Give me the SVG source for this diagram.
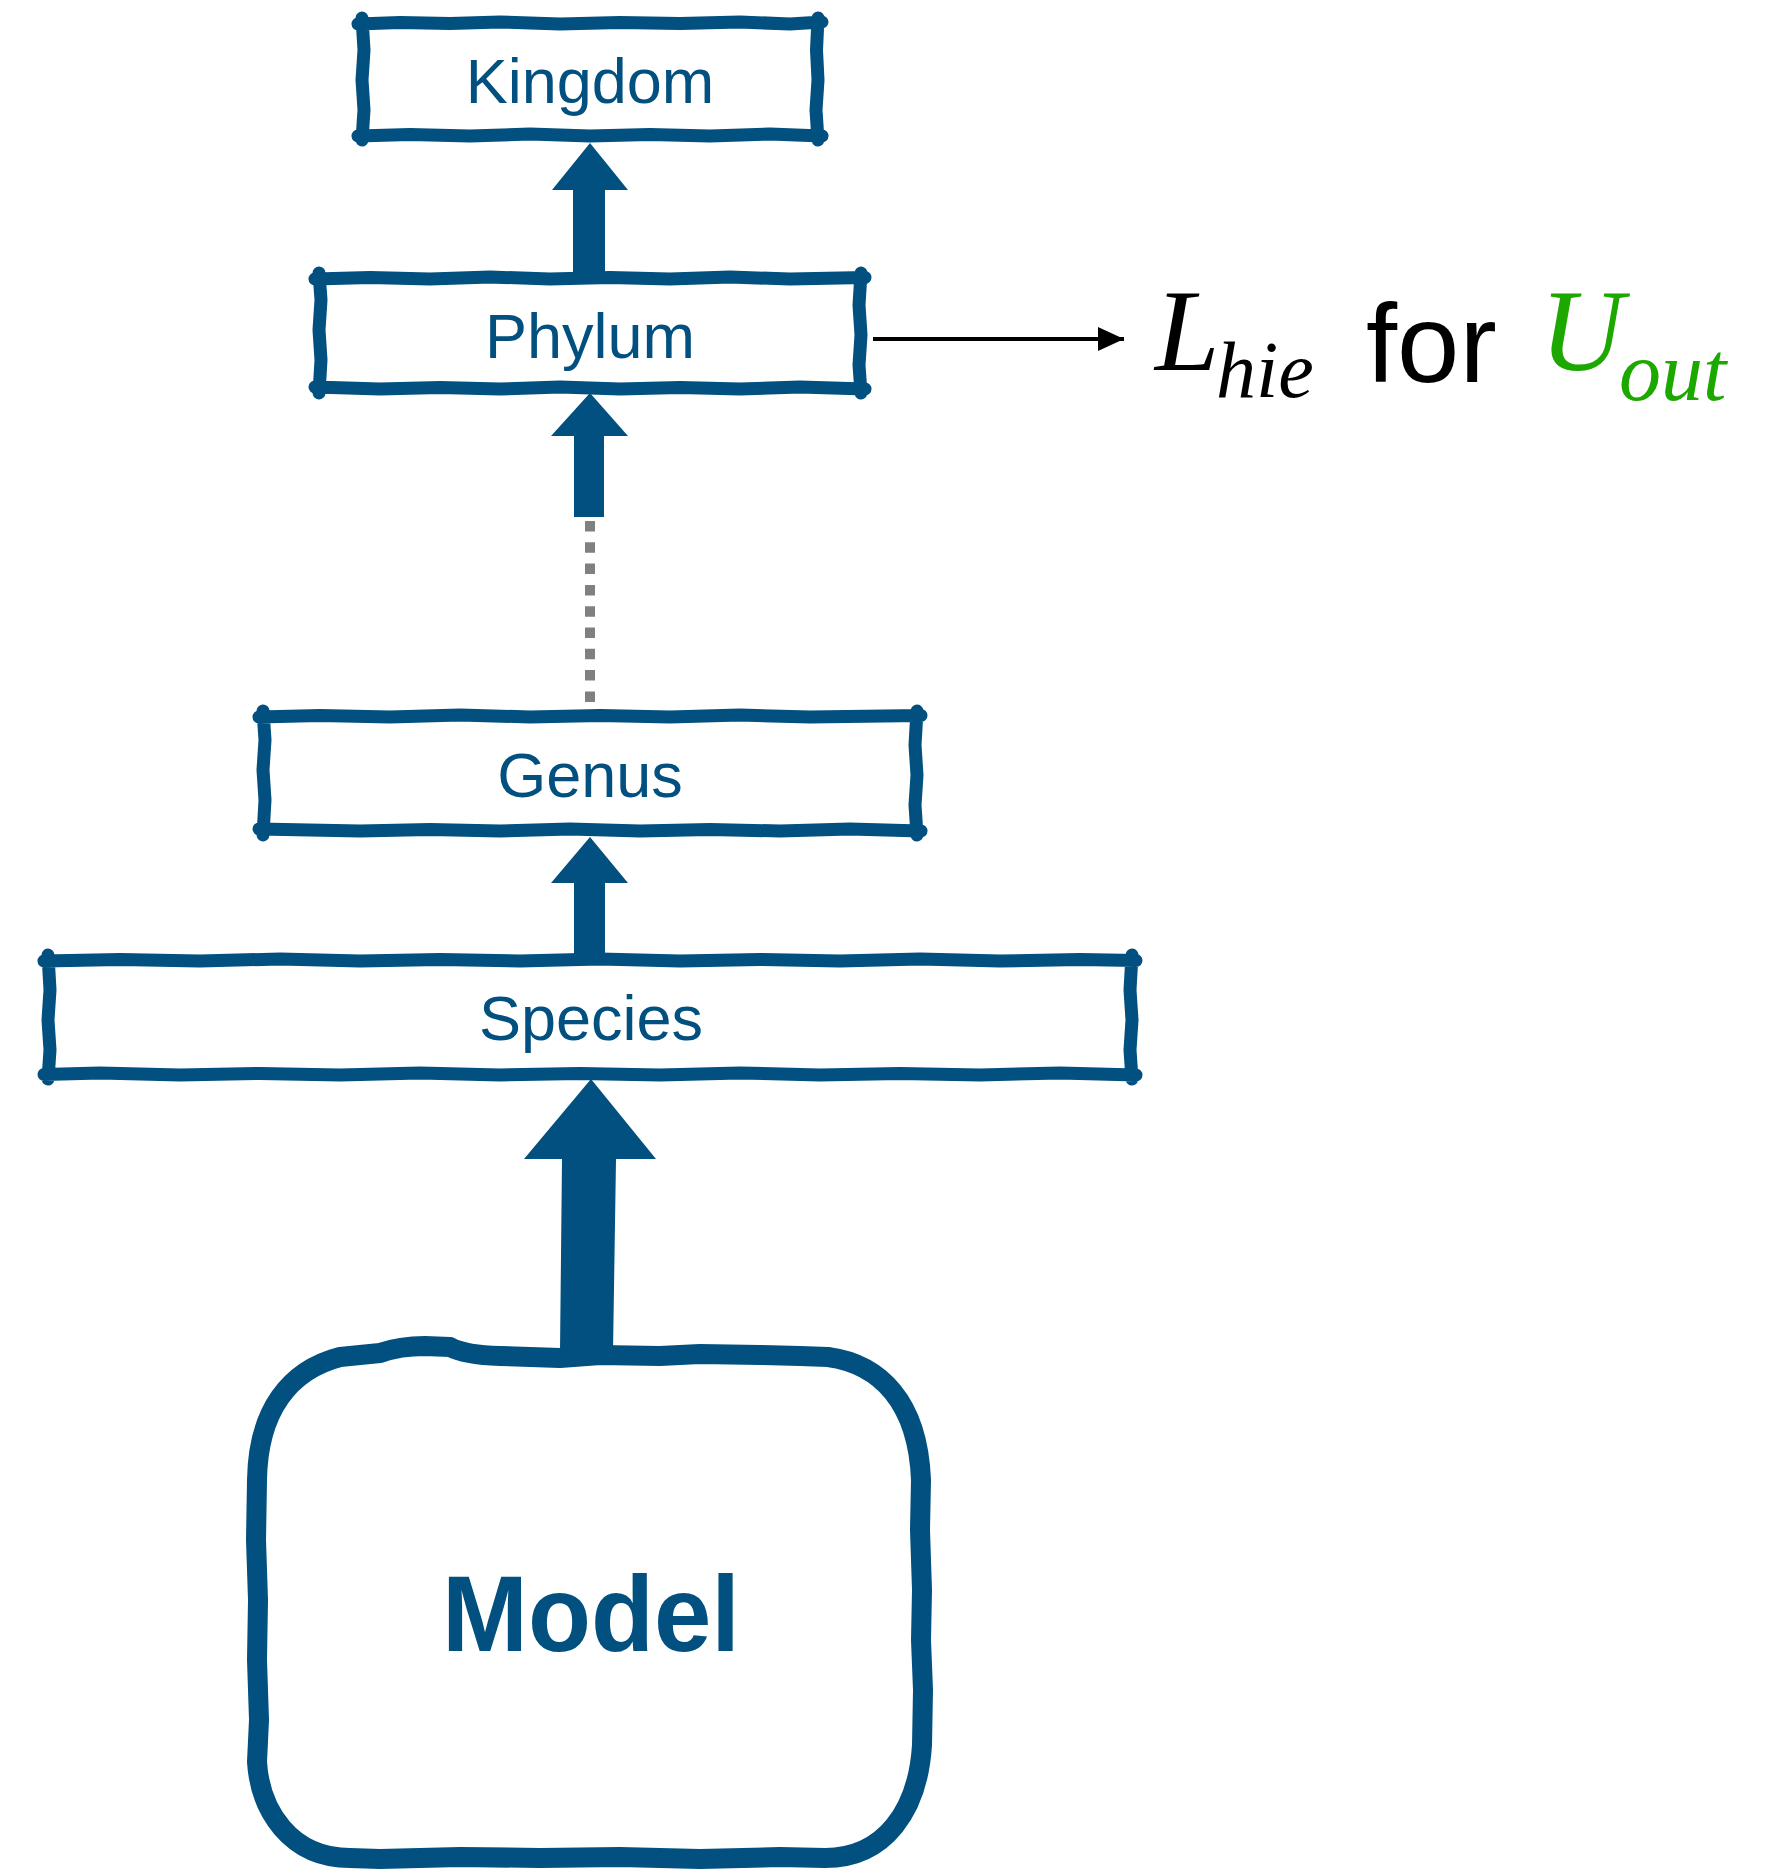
<svg xmlns="http://www.w3.org/2000/svg" width="1772" height="1871" viewBox="0 0 1772 1871">
<style>
.box{fill:none;stroke:#02507F;stroke-width:13;stroke-linecap:round;stroke-linejoin:round}
.bg{fill:#fff;stroke:none}
.lbl{font-family:"Liberation Sans",Arial,sans-serif;font-size:63px;fill:#02507F;text-anchor:middle}
.big{fill:#02507F;stroke:none}
.math{font-family:"Liberation Serif","Times New Roman",serif;font-style:italic}
</style>
<defs>
<marker id="ah" markerUnits="userSpaceOnUse" markerWidth="28" markerHeight="26" refX="26" refY="13" orient="auto">
<path d="M0 1 L26 13 L0 25 Z" fill="#000"/>
</marker>
</defs>
<rect width="1772" height="1871" fill="#fff"/>

<g id="connectors">
<polygon class="big" points="590,143 628,190 605,190 605,272 573,272 573,190 552,190"/>
<polygon class="big" points="590,393 628,436 604,436 604,517 574,517 574,436 551,436"/>
<line x1="590" y1="521" x2="590" y2="705" stroke="#808080" stroke-width="10" stroke-dasharray="10.5 10.8"/>
<polygon class="big" points="590,837 628,883 605,883 605,959 574,959 574,883 551,883"/>
<polygon class="big" points="591,1079 656,1159 616,1159 613,1352 560,1352 562,1159 524,1159"/>
<line x1="873" y1="339" x2="1124" y2="339" stroke="#000" stroke-width="4" marker-end="url(#ah)"/>
</g>

<g id="kingdom">
<rect class="bg" x="363" y="23" width="454" height="112"/>
<path class="box" d="M358 24 L400 22.5 L450 23.5 L500 22 L560 24 L620 22.5 L680 23.5 L740 22 L790 24 L822 22 M818 18 L816.5 50 L818 80 L816 110 L818 140 M822 136 L770 134 L710 136 L650 134.5 L590 136 L530 134 L470 136 L410 134.5 L358 136 M362 140 L364 110 L362 80 L364 50 L362 18"/>
<text class="lbl" x="590" y="103">Kingdom</text>
</g>

<g id="phylum">
<rect class="bg" x="320" y="278" width="540" height="110"/>
<path class="box" d="M315 279 L370 277.5 L430 279 L490 277 L550 279 L610 277.5 L670 279 L730 277 L790 279 L865 277.5 M861 273 L859 305 L861 335 L859 365 L861 393 M865 389 L800 387 L740 389 L680 387.5 L620 389 L560 387 L500 389 L440 387.5 L380 389 L315 387 M319 393 L321 360 L319 330 L321 300 L319 273"/>
<text class="lbl" x="590" y="358">Phylum</text>
</g>

<g id="genus">
<rect class="bg" x="264" y="716" width="652" height="114"/>
<path class="box" d="M259 717 L320 715.5 L390 717 L460 715 L530 717 L600 715.5 L670 717 L740 715 L810 717 L921 715.5 M917 711 L915 745 L917 775 L915 805 L917 835 M921 831 L850 829 L780 831 L710 829.5 L640 831 L570 829 L500 831 L430 829.5 L360 831 L259 829 M263 835 L265 800 L263 770 L265 740 L263 711"/>
<text class="lbl" x="590" y="797">Genus</text>
</g>

<g id="species">
<rect class="bg" x="49" y="960" width="1082" height="114"/>
<path class="box" d="M44 961 L120 959.5 L200 961 L280 959 L360 961 L440 959.5 L520 961 L600 959 L680 961 L760 959.5 L840 961 L920 959 L1000 961 L1080 959.5 L1136 960.5 M1132 955 L1130 990 L1132 1020 L1130 1050 L1132 1079 M1136 1075 L1060 1073 L980 1075 L900 1073.5 L820 1075 L740 1073 L660 1075 L580 1073.5 L500 1075 L420 1073 L340 1075 L260 1073.5 L180 1075 L100 1073 L44 1074.5 M48 1079 L50 1050 L48 1020 L50 990 L48 955"/>
<text class="lbl" x="591" y="1040">Species</text>
</g>

<g id="model">
<path fill="#fff" stroke="#02507F" stroke-width="20" stroke-linejoin="round" d="M340 1357 L380 1353 Q400 1346 425 1346 L450 1347 Q465 1355 500 1356 L560 1358 L600 1355 L660 1356 L700 1354 L760 1355 L800 1356 L828 1357 C880 1364 918 1402 921 1480 L920 1530 L922 1590 L921 1640 L923 1690 L922 1745 C918 1810 885 1858 825 1858 L780 1857 L700 1859 L620 1857 L540 1858 L460 1857 L380 1859 L350 1858 C290 1858 260 1810 257 1762 L259 1720 L257 1660 L258 1600 L256 1540 L257 1480 C258 1410 290 1370 340 1357 Z"/>
<text x="591" y="1651" font-family="'Liberation Sans',Arial,sans-serif" font-weight="bold" font-size="108" fill="#02507F" text-anchor="middle" textLength="298" lengthAdjust="spacingAndGlyphs">Model</text>
</g>

<g id="loss-label">
<text class="math" x="1155" y="370" font-size="116" fill="#000">L</text>
<text class="math" x="1216" y="397" font-size="80" fill="#000">hie</text>
<text x="1366" y="382" font-family="'Liberation Sans',Arial,sans-serif" font-size="112" fill="#000">for</text>
<text class="math" x="1540" y="370" font-size="116" fill="#1DA800">U</text>
<text class="math" x="1619" y="400" font-size="84" fill="#1DA800">out</text>
</g>
</svg>
